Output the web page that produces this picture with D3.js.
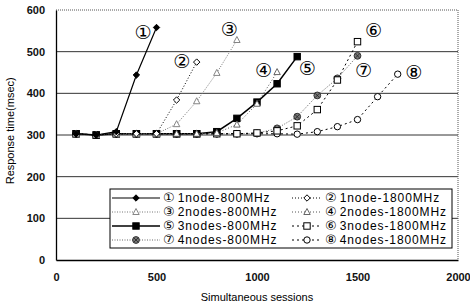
<!DOCTYPE html>
<html>
<head>
<meta charset="utf-8">
<script src="https://cdn.jsdelivr.net/npm/d3@7"></script>
<style>
  body { margin: 0; background: #fff; }
  text { font-family: "Liberation Sans", Arial, sans-serif; }
</style>
</head>
<body>
<div id="chart"></div>
<script>
var width = 470, height = 307;
var margin = { top: 10, right: 12, bottom: 47, left: 56 };

// data (response time in msec, sessions start at 100 and step by 100)
var sessions = [100,200,300,400,500,600,700,800,900,1000,1100,1200,1300,1400,1500,1600,1700];
var s1 = [303,300,308,444,558];
var s2 = [303,300,303,303,303,384,475];
var s3 = [303,300,303,303,303,326,381,449,528];
var s4 = [303,300,303,303,303,303,303,305,325,375,451];
var s5 = [303,300,303,303,303,303,303,308,340,379,423,488];
var s6 = [303,300,303,303,303,303,303,303,303,305,310,322,361,432,524];
var s7 = [303,300,303,303,303,303,303,303,303,304,316,344,395,436,490];
var s8 = [303,300,303,303,303,303,303,303,303,303,303,302,308,320,337,392,446];

var seriesNames = ["1node-800MHz","1node-1800MHz","2nodes-800MHz","2nodes-1800MHz",
                   "3nodes-800MHz","3nodes-1800MHz","4nodes-800MHz","4nodes-1800MHz"];
var circled = ["①","②","③","④","⑤","⑥","⑦","⑧"];
// annotation positions in data units [sessions, msec]
var labelPos = [[433,547],[626,477],[862,553],[1032,455],[1250,460],[1580,550],[1530,455],[1780,450]];

var xTicks = [0,500,1000,1500,2000];
var yTicks = [0,100,200,300,400,500,600];

var styles = [
  { dash: null,  stroke: "#000", w: 1.2, marker: "diamond",  fill: "#000" },
  { dash: "1,2", stroke: "#000", w: 1,   marker: "diamond",  fill: "#fff" },
  { dash: "1,1.5", stroke: "#777", w: 1, marker: "triangle", fill: "#fff" },
  { dash: "1,2", stroke: "#555", w: 1,   marker: "triangle", fill: "#fff" },
  { dash: null,  stroke: "#000", w: 1.5, marker: "square",   fill: "#000" },
  { dash: "2,3", stroke: "#000", w: 1,   marker: "square",   fill: "#fff" },
  { dash: "1,1.5", stroke: "#666", w: 1, marker: "xcircle",  fill: "#777" },
  { dash: "2,3", stroke: "#000", w: 1,   marker: "circle",   fill: "#fff" }
];

var allSeries = [s1,s2,s3,s4,s5,s6,s7,s8].map(function (vals, i) {
  return { name: seriesNames[i], id: i, style: styles[i],
           points: vals.map(function (v, j) { return { x: sessions[j], y: v }; }) };
});

var svg = d3.select("#chart").append("svg")
    .attr("width", width).attr("height", height);

var x = d3.scaleLinear().domain([0, 2000]).range([margin.left, width - margin.right]);
var y = d3.scaleLinear().domain([0, 600]).range([height - margin.bottom, margin.top]);

// gridlines
svg.append("g").selectAll("line")
    .data(yTicks.filter(function (d) { return d > 0 && d < 600; }))
    .enter().append("line")
    .attr("x1", x(0)).attr("x2", x(2000))
    .attr("y1", function (d) { return y(d); }).attr("y2", function (d) { return y(d); })
    .attr("stroke", "#333").attr("stroke-width", 1);

// dotted top/right border
svg.append("path")
    .attr("d", "M" + x(0) + "," + y(600) + "H" + x(2000) + "V" + y(0))
    .attr("fill", "none").attr("stroke", "#555").attr("stroke-dasharray", "1,1");

// axes
var xAxis = svg.append("g")
    .attr("transform", "translate(0," + y(0) + ")")
    .call(d3.axisBottom(x).tickValues(xTicks).tickFormat(d3.format("d")).tickSize(0).tickPadding(13));
var yAxis = svg.append("g")
    .attr("transform", "translate(" + x(0) + ",0)")
    .call(d3.axisLeft(y).tickValues(yTicks).tickFormat(d3.format("d")).tickSize(0).tickPadding(11));
[xAxis, yAxis].forEach(function (a) {
  a.select(".domain").attr("stroke", "#000").attr("stroke-width", 1.3);
  a.selectAll("text").attr("font-size", 11).attr("font-weight", "bold")
    .attr("fill", "#111").style("font-family", "Liberation Sans, Arial, sans-serif");
});

svg.append("text")
    .attr("x", (x(0) + x(2000)) / 2).attr("y", 301)
    .attr("text-anchor", "middle").attr("font-size", 11)
    .text("Simultaneous sessions");
svg.append("text")
    .attr("transform", "translate(14," + y(310) + ") rotate(-90)")
    .attr("text-anchor", "middle").attr("font-size", 11)
    .text("Response time(msec)");

function drawMarker(g, type, fill, stroke) {
  var s = 3.2;
  if (type === "diamond") {
    g.append("path").attr("d", "M0,-" + s + "L" + s + ",0L0," + s + "L-" + s + ",0Z")
      .attr("fill", fill).attr("stroke", stroke).attr("stroke-width", 1);
  } else if (type === "triangle") {
    g.append("path").attr("d", "M0,-3.5L3.2,2.5L-3.2,2.5Z")
      .attr("fill", fill).attr("stroke", stroke).attr("stroke-width", 0.9);
  } else if (type === "square") {
    g.append("rect").attr("x", -3.2).attr("y", -3.2).attr("width", 6.4).attr("height", 6.4)
      .attr("fill", fill).attr("stroke", "#000").attr("stroke-width", 1);
  } else if (type === "circle") {
    g.append("circle").attr("r", 3.2)
      .attr("fill", fill).attr("stroke", "#000").attr("stroke-width", 1);
  } else if (type === "xcircle") {
    g.append("circle").attr("r", 3.4)
      .attr("fill", fill).attr("stroke", "#333").attr("stroke-width", 1);
    g.append("path").attr("d", "M-2.3,-2.3L2.3,2.3M2.3,-2.3L-2.3,2.3")
      .attr("stroke", "#222").attr("stroke-width", 0.8);
  }
}

var line = d3.line()
    .x(function (d) { return x(d.x); })
    .y(function (d) { return y(d.y); });

var plot = svg.append("g");
// draw higher-numbered series first so 1 sits on top
allSeries.slice().reverse().forEach(function (s) {
  plot.append("path")
      .datum(s.points)
      .attr("d", line)
      .attr("fill", "none")
      .attr("stroke", s.style.stroke)
      .attr("stroke-width", s.style.w)
      .attr("stroke-dasharray", s.style.dash);
  plot.selectAll(null).data(s.points).enter().append("g")
      .attr("transform", function (d) { return "translate(" + x(d.x) + "," + y(d.y) + ")"; })
      .each(function () { drawMarker(d3.select(this), s.style.marker, s.style.fill, s.style.stroke); });
});

// circled number annotations
svg.append("g").selectAll("text")
    .data(labelPos).enter().append("text")
    .attr("x", function (d) { return x(d[0]); })
    .attr("y", function (d) { return y(d[1]); })
    .attr("dy", "0.35em")
    .attr("text-anchor", "middle")
    .attr("font-size", 19)
    .style("font-family", "DejaVu Sans, sans-serif")
    .text(function (d, i) { return circled[i]; });

// legend
var lg = svg.append("g");
lg.append("rect")
    .attr("x", 110).attr("y", 189).attr("width", 342).attr("height", 59)
    .attr("fill", "#fff").attr("stroke", "#000").attr("stroke-width", 1);

var rowY = [198, 212, 226, 240];
var order = [0, 2, 4, 6, 1, 3, 5, 7];
order.forEach(function (idx, k) {
  var col = k < 4 ? 0 : 1;
  var row = k % 4;
  var lx0 = col === 0 ? 112 : 292;
  var lx1 = col === 0 ? 160 : 322;
  var tx = col === 0 ? 163 : 325;
  var st = styles[idx];
  var cy = rowY[row];
  lg.append("line")
      .attr("x1", lx0).attr("x2", lx1).attr("y1", cy).attr("y2", cy)
      .attr("stroke", st.stroke).attr("stroke-width", st.w)
      .attr("stroke-dasharray", st.dash);
  drawMarker(lg.append("g").attr("transform", "translate(" + ((lx0 + lx1) / 2) + "," + cy + ")"),
             st.marker, st.fill, st.stroke);
  var t = lg.append("text")
      .attr("x", tx).attr("y", cy).attr("dy", "0.35em")
      .attr("font-size", 12);
  t.append("tspan").style("font-family", "DejaVu Sans, sans-serif").attr("font-size", 13)
      .text(circled[idx]);
  t.append("tspan").attr("dx", 3).attr("letter-spacing", 0.9).text(seriesNames[idx]);
});
</script>
</body>
</html>
